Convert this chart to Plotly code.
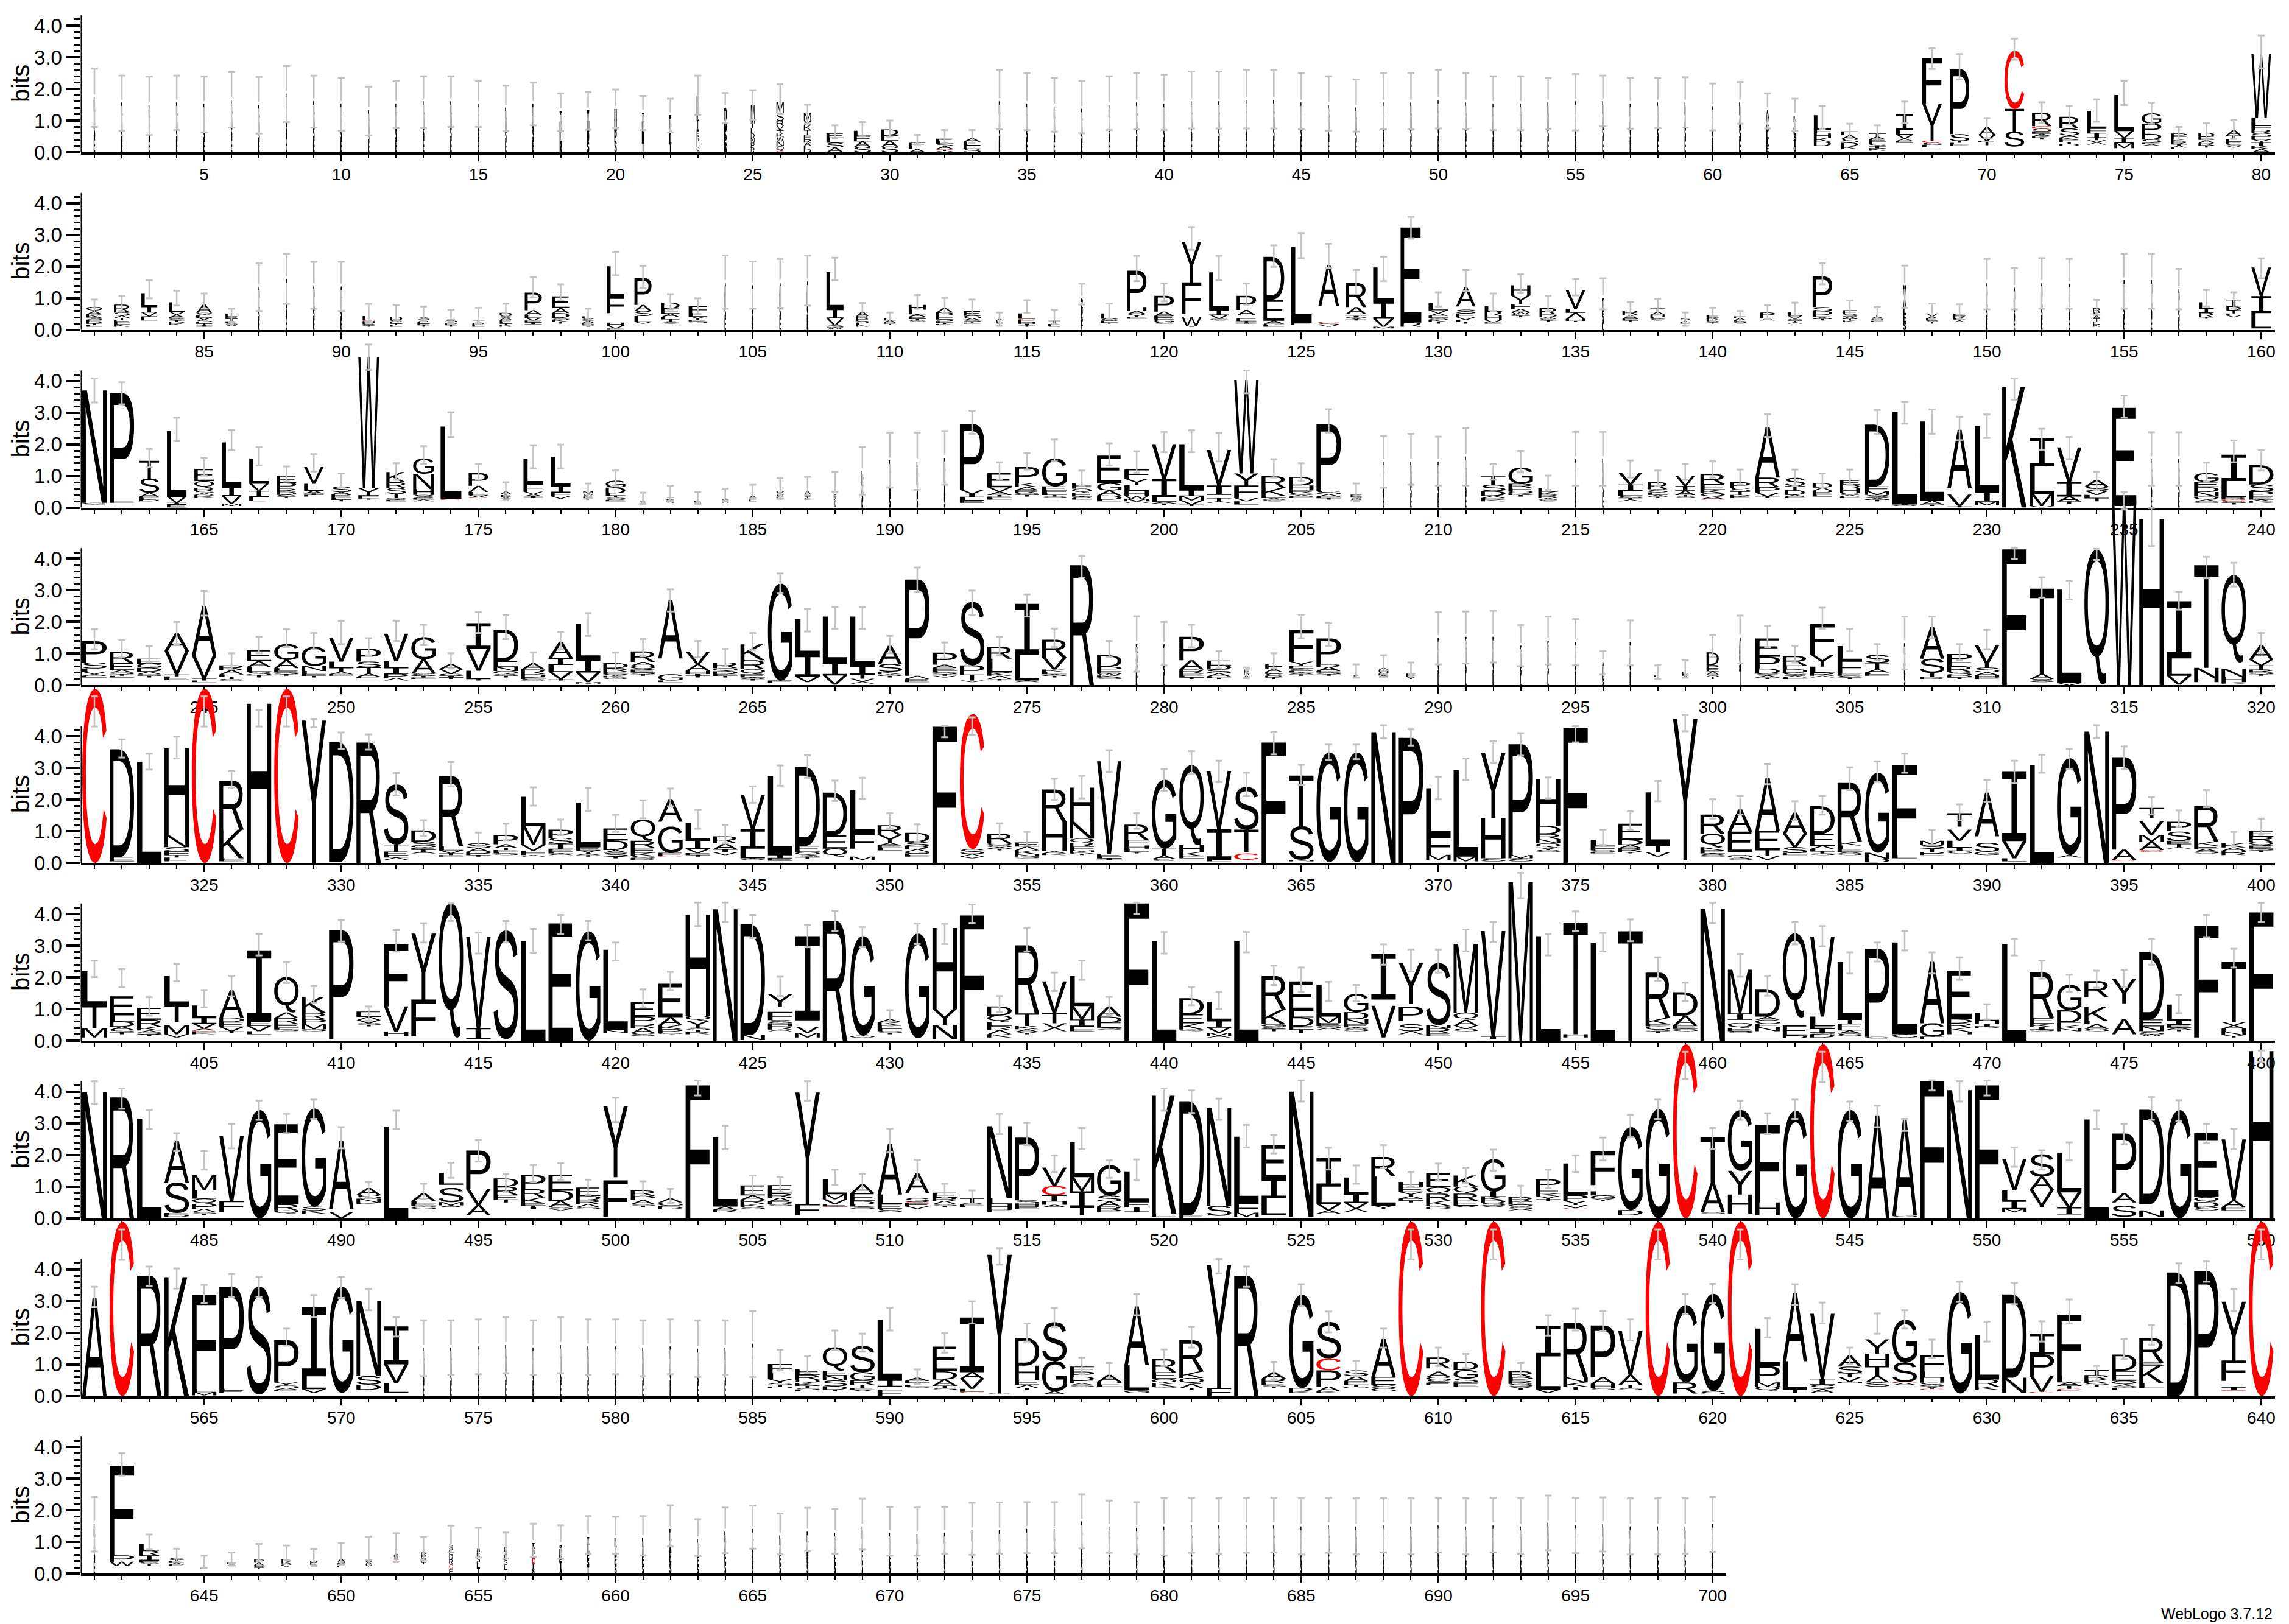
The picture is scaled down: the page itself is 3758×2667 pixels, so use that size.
import glob
import re
import struct

import plotly.graph_objects as go

# one tuple per position: (letters top to bottom, error low, error high[, stack width])
# "ESD.1" means E, S and D at 0.1 bits each, "_" is an empty spacer
row1 = [
    ("LASE.43", .80, 2.64, .03), ("LASE.39", .68, 2.42, .03), ("LASE.37", .55, 2.39, .03), ("LASE.39", .70, 2.42, .03),
    ("LASE.38", .63, 2.39, .03), ("LASE.41", .78, 2.53, .03), ("LASE.37", .59, 2.38, .03), ("LASE.46", .95, 2.72, .03),
    ("LASE.40", .78, 2.42, .03), ("LASE.38", .68, 2.35, .03), ("LASE.33", .53, 2.07, .03), ("LASE.38", .76, 2.24, .03),
    ("LASE.40", .76, 2.40, .03), ("LASE.40", .80, 2.40, .03), ("LASE.38", .80, 2.24, .03), ("LASE.35", .67, 2.10, .03),
    ("LASE.38", .85, 2.20, .04), ("TKLR.32", .67, 1.86, .06), ("VNDS.33", .71, 1.90, .06), ("HNPS.34", .76, 1.98, .07),
    ("ILNT.31", .70, 1.78, .06), ("KSLT.29", .63, 1.69, .05), ("M.75 I.35 ERHQ.17", 1.18, 2.42, .1), ("Q.5 NKPR.2 HS.05", .92, 1.87, .09),
    ("M.6 ILDNPR.15", 1.03, 1.96, .15), ("M.35 S.25 RV.15 T.1 K.1 WNQ.15 C.04", 1.2, 2.15, .3), ("M.25 SKTE.15 RALD.1", .9, 1.5, .3), ("ELSA.15", .45, .85, .7),
    ("LEAS.17", .5, .95, .7), ("DEAS.18", .5, 1.0, .7), ("ELA.1", .25, .55, .7), ("ELSA.08 C.03 TV.04", .3, .7, .7),
    ("ALES.11", .3, .7, .7), ("LASE.40", .72, 2.6, .03), ("LASE.38", .7, 2.5, .03), ("LASE.36", .65, 2.35, .03),
    ("LASE.34", .6, 2.25, .03), ("LASE.37", .7, 2.4, .03), ("LASE.39", .72, 2.5, .03), ("LASE.38", .7, 2.45, .03),
    ("LASE.40", .75, 2.55, .03), ("LASE.40", .75, 2.55, .03), ("LASE.41", .75, 2.6, .03), ("LASE.41", .75, 2.6, .03),
    ("LASE.39", .72, 2.5, .03), ("LASE.37", .68, 2.4, .03), ("LASE.35", .65, 2.3, .03), ("LASE.39", .72, 2.5, .03),
    ("LASE.39", .72, 2.5, .03), ("LASE.41", .75, 2.6, .03), ("LASE.39", .72, 2.5, .03), ("LASE.38", .7, 2.4, .03),
    ("LASE.38", .7, 2.4, .03), ("LASE.39", .74, 2.34, .03), ("LASE.40", .69, 2.47, .03), ("LASE.40", .82, 2.42, .03),
    ("LASE.38", .74, 2.35, .03), ("LASE.39", .76, 2.35, .03), ("LASE.39", .78, 2.37, .03), ("LASE.36", .69, 2.17, .03),
    ("LASE.39", .9, 2.22, .05), ("AVSLKE.22", .75, 1.86, .07), ("LAESTQ.19", .67, 1.69, .08), ("L.45 FHKD.13 _.2", .72, 1.46, .7),
    ("EAS.12 DK.1 _.1", .44, .9, .7), ("T.1 AE.08 LSIK.07 _.05", .41, .85, .7), ("I.5 LV.14 AE.06 _.3", .92, 1.6, .7), ("F1.43 Y1.17 C.06 SL.07 _.16", 2.63, 3.28),
    ("P2.05 S.22 TLE.05 _.2", 2.3, 3.1), ("A.25 V.2 E.03 T.1 _.22", .45, 1.08, .7), ("C1.83 T.72 S.47 _.18", 2.92, 3.59), ("R.43 C.08 SEA.08 KT.05 _.4", .93, 1.58),
    ("R.37 S.22 AKE.07 TD.06 _.2", .87, 1.46), ("L.56 F.14 I.16 TVA.07 _.24", .96, 1.67), ("L1.14 V.22 I.16 M.16 _.13", 1.49, 2.24), ("G.33 P.32 D.18 S.1 EA.05 _.2", .9, 1.57),
    ("P.1 EKR.08 IAL.05 _.1", .35, .8, .65), ("D.12 EA.1 RT.07 _.15", .4, .92, .65), ("A.17 T.12 LE.08 SV.05 _.15", .42, 1.01, .65), ("W2.02 L.24 F.13 R.11 S.1 EYIKA.1", 2.65, 3.69),
]
row2 = [
    ("Q.14 AK.1 SE.07 DTL.05 _.1", .48, .96, .65), ("R.25 S.1 AT.07 ELK.07 _.1", .6, 1.08, .65), ("L.42 I.19 V.12 E.13 _.3", 1.0, 1.57, .65), ("L.3 V.1 A.07 EST.05 DK.05 _.15", .77, 1.24, .65),
    ("A.27 Q.07 L.08 VS.07 ETI.05 _.1", .67, 1.15, .65), ("FET.08 LSA.05 _.12", .25, .67, .5), ("ALSE.34", .6, 2.1, .03), ("ALSE.40", .82, 2.4, .03),
    ("ALSE.35", .67, 2.15, .03), ("ALSE.34", .6, 2.15, .03), ("L.13 C.03 HE.05 ST.04 _.1", .28, .82, .5), ("D.12 S.05 ETL.05 _.1", .32, .79, .5),
    ("SA.07 LET.05 _.1", .29, .74, .5), ("S.08 AET.05 _.1", .26, .64, .5), ("T.05 AEL.05 _.1", .22, .7, .5), ("D.08 SAE.07 LTK.05 _.1", .32, .83, .5),
    ("P.56 A.14 L.1 V.08 EI.06 _.18", 1.03, 1.67, .7), ("E.37 A.16 D.15 SKT.06 _.2", .93, 1.44, .7), ("LSA.07 ETV.04 _.1", .16, .67, .5), ("L.97 F.51 _.3 H.1 V.08 E.05", 1.73, 2.45, .7),
    ("P.85 A.19 S.16 L.19 V.05 _.2", 1.33, 2.02, .7), ("D.18 E.17 A.1 FTS.07 _.2", .65, 1.13, .75), ("F.22 L.11 VT.05 ES.05 _.22", .5, 1.0, .75), ("ALSE.37", .67, 2.35, .03),
    ("ALSE.35", .67, 2.16, .03), ("ALSE.37", .7, 2.24, .03), ("ALSE.38", .77, 2.35, .03), ("L1.17 I.3 V.22 S.06 W.05 _.03", 1.57, 2.28, .7),
    ("A.14 R.1 ES.06 LK.06 _.1", .42, .85, .5), ("L.07 ADT.05 _.15", .22, .55, .5), ("H.15 L.15 AE.07 TS.05 _.25", .67, 1.1, .7), ("A.15 P.15 E.07 SL.05 TK.04 _.15", .54, 1.01, .7),
    ("E.14 G.08 A.06 ST.04 L.03 _.2", .48, .96, .7), ("ALS.05 _.2", .13, .55, .3), ("L.17 C.03 EH.06 IT.05 _.1", .54, .94, .7), ("T.1 ELA.03 _.1", .19, .64, .5),
    ("DLEVSKT.14", .8, 1.46, .05), ("L.17 SE.06 T.03 _.2", .35, .83, .7), ("P1.15 H.12 A.1 Y.1 E.05 _.35", 1.54, 2.34, .8), ("P.5 A.13 E.13 G.07 S.05 _.2", .9, 1.47, .8),
    ("Y1.28 F1.0 _.1 W.27 I.03 _.1", 2.53, 3.25, .8), ("L1.2 I.15 V.12 S.05 _.3", 1.57, 2.34, .8), ("P.45 A.17 _.1 E.08 T.05 I.03 _.2", .8, 1.47, .8), ("D1.35 E.67 A.09 G.05 L.05 _.1", 1.99, 2.67, .85),
    ("L2.38 E.08 _.15", 2.27, 3.06, .85), ("A1.3 _.5 C.03 SV.06 _.1", 1.95, 2.72, .85), ("R.76 A.22 _.05 I.06 V.05 T.04 _.3", 1.12, 1.89, .85), ("L1.08 I.54 V.25 M.05 _.05", 1.54, 2.31, .85),
    ("E3.0 R.13 _.1", 2.88, 3.57, .85), ("L.22 V.1 AE.07 SKT.06 _.2", .74, 1.19, .8), ("A.6 _.1 SE.12 V.08 LT.06 _.2", 1.22, 1.89, .8), ("L.18 R.12 H.14 V.07 E.04 _.2", .6, 1.15, .7),
    ("H.32 Y.27 F.16 A.1 W.06 S.05 T.05 _.4", 1.18, 1.76, .8), ("R.2 D.08 A.06 ST.05 _.25", .6, 1.08, .7), ("V.58 L.13 A.2 H.05 T.04 _.25", 1.09, 1.6, .8), ("KSEAL.2", .65, 1.63, .05),
    ("R.14 A.12 ET.05 _.25", .42, .88, .65), ("T.12 A.09 D.08 LS.05 _.3", .48, .98, .6), ("ST.04 AL.04 _.2", .13, .55, .4), ("E.08 RL.05 ST.04 _.2", .28, .7, .5),
    ("EA.06 LS.04 T.03 _.2", .22, .6, .5), ("P.13 LA.06 _.3", .35, .78, .6), ("L.12 V.11 ST.05 A.04 _.2", .42, .86, .6), ("P.97 S.12 D.13 E.07 AT.05 _.3", 1.44, 2.1, .8),
    ("E.13 SA.07 TK.05 _.25", .48, .93, .6), ("TA.05 SVF.04 _.25", .29, .72, .5), ("V.4 ALES.25", .7, 2.03, .08), ("V.1 AL.06 ST.05 _.2", .35, .83, .5),
    ("E.07 R.07 LTA.04 _.25", .35, .81, .5), ("ALSE.37", .65, 2.24, .03), ("ALSE.33", .65, 1.95, .03), ("ALSE.37", .67, 2.27, .03),
    ("ALSE.36", .67, 2.24, .03), ("R.13 S.1 AT.1 EK.08 _.1", .48, .95, .3), ("ALSE.39", .67, 2.41, .03), ("ALSE.39", .67, 2.4, .03),
    ("ALSE.32", .65, 1.93, .03), ("L.2 I.13 R.14 T.05 _.35", .74, 1.26, .6), ("I.22 D.12 T.1 LV.06 _.4", .67, 1.19, .6), ("V.9 I.54 L.48 _.05", 1.63, 2.26, .8),
]
row3 = [
    ("N3.55 G.05 _.1", 3.32, 4.08), ("P3.41 E.05 _.15", 3.26, 3.96), ("T.56 S.45 A.12 ELD.05 _.2", 1.27, 1.85, .8), ("L2.08 V.19 I.05 E.1", 2.1, 2.84, .8),
    ("E.38 Q.22 R.1 SA.06 DK.05 _.3", 1.01, 1.56, .8), ("L1.41 I.29 V.24 M.07 _.05", 1.81, 2.45, .8), ("L.8 V.22 I.19 F.12 C.02 _.2", 1.33, 1.91, .8), ("E.22 P.18 R.1 D.1 ST.05 _.3", .82, 1.3, .8),
    ("V.53 L.22 A.08 IF.05 _.35", 1.14, 1.69, .8), ("S.17 A.07 PE.06 LT.05 _.2", .63, 1.08, .8), ("W4.15 Y.22 F.1 T.04 _.25", 4.35, 5.15, .85), ("K.32 R.18 S.19 T.13 QE.05 _.2", .88, 1.4, .8),
    ("G.48 N.48 H.19 S.1 EA.05 _.2", 1.37, 1.94, .85), ("L2.29 C.03 _.24", 2.23, 3.01, .85), ("P.4 A.2 L.1 V.07 C.02 _.3", .88, 1.38, .8), ("A.07 ILV.05 T.04 _.25", .24, .8, .4),
    ("L.8 F.25 V.08 AI.06 _.3", 1.24, 1.97, .8), ("L.93 I.2 F.12 V.08 _.28", 1.24, 1.99, .8), ("M.06 AS.05 LT.05 _.25", .31, .76, .4), ("G.22 D.18 L.07 TS.05 AE.04 _.2", .7, 1.17, .8),
    ("ELS.03 AT.02 _.1", .12, .47, .2), ("T.05 E.05 LS.03 _.15", .21, .69, .3), ("EA.03 _.15", .12, .49, .3), ("S.05 TA.03 _.15", .21, .6, .3),
    ("A.05 SEL.04 _.2", .28, .72, .3), ("P.07 AS.05 C.02 LT.04 _.25", .28, .93, .3), ("A.07 V.05 STE.05 _.25", .4, .97, .25), ("LEKTA.1", .5, 1.13, .1),
    ("LEASK.23", .4, 1.91, .04), ("LEAS.37", .63, 2.37, .03), ("LEAS.36", .56, 2.37, .03), ("LEAS.39", .72, 2.42, .03),
    ("P2.08 V.13 I.1 L.1 E.08 _.15", 2.33, 3.06), ("E.45 V.14 A.1 TE.05 L.05 _.25", .88, 1.43), ("P.5 K.13 A.1 R.1 ST.05 _.35", 1.2, 1.72), ("G.88 E.12 F.08 L.07 TS.05 _.3", 1.46, 2.15),
    ("F.18 Q.13 E.12 AL.05 _.25", .7, 1.17, .8), ("E.87 G.23 A.16 D.13 L.05 _.2", 1.33, 2.03), ("F.3 Y.2 L.18 H.16 W.1 M.07 A.05 _.15", 1.1, 1.78), ("V1.1 I.57 L.15 A.05 T.05 _.08", 1.75, 2.39),
    ("L1.44 I.2 M.13 V.13 T.05 _.05", 1.75, 2.44), ("V1.12 I.3 _.1 T.1 A.05 _.15", 1.46, 2.36), ("W2.95 Y.38 F.4 V.1 L.1 _.1", 3.61, 4.33), ("R.37 K.25 E.07 A.05 S.05 _.2", .95, 1.53),
    ("D.27 H.16 R.08 S.06 AE.05 _.3", .85, 1.4), ("P2.1 S.11 A.07 ET.05 _.25", 2.37, 3.11), ("E.07 SA.05 T.04 _.2", .21, .76, .45), ("LA.36 SE.36", .63, 2.26, .03),
    ("LA.36 SE.36", .72, 2.33, .03), ("LA.36 SE.36", .69, 2.24, .03), ("LA.4 SE.4", .69, 2.52, .03), ("T.29 S.2 D.15 A.07 EK.05 _.2", .88, 1.37),
    ("G.51 R.13 E.1 Q.07 KT.05 _.35", 1.11, 1.79), ("E.12 K.1 R.1 AS.05 _.2", .56, 1.01, .8), ("LA.38 SE.38", .69, 2.39, .03), ("LA.38 SE.38", .69, 2.39, .03),
    ("V.38 I.2 L.16 S.07 TA.05 _.2", .95, 1.49), ("R.22 S.1 L.08 AT.05 _.3", .69, 1.17, .8), ("V.32 I.15 A.13 TS.05 _.3", .88, 1.38, .8), ("R.32 E.18 K.1 Q.12 A.07 C.02 _.25", .95, 1.46),
    ("P.18 S.11 T.11 DE.05 _.3", .72, 1.2, .8), ("A1.6 R.3 P.18 V.12 T.05 _.3", 2.23, 2.95), ("S.26 T.13 D.15 AE.05 _.3", .69, 1.2, .8), ("D.14 A.1 P.08 EL.05 _.35", .63, 1.08, .8),
    ("E.14 D.11 H.15 S.06 AL.05 _.3", .72, 1.2, .8), ("D1.95 E.16 M.11 S.1 AT.05 _.2", 2.33, 3.08), ("L2.92 A.05 _.05", 2.65, 3.33), ("L2.5 A.12 T.05 _.05", 2.33, 3.1),
    ("A1.85 _.2 V.36 T.05", 2.13, 2.87), ("L2.08 I.3 M.12 _.07", 2.2, 2.94), ("K3.8", 3.4, 4.08), ("I.9 L.87 M.38 V.05", 1.81, 2.49),
    ("V1.1 I.45 A.15 T.08 _.12", 1.53, 2.23), ("A.21 S.13 V.13 L.1 T.1 _.2", .56, 1.13), ("E3.1 _.05", 2.84, 3.54), ("LA.38 SE.38", .69, 2.38, .03),
    ("LA.38 SE.38", .69, 2.38, .03), ("G.28 E.16 D.16 N.14 Q.1 AS.05 _.15", .82, 1.42), ("I.83 L.52 R.07 C.05 ST.05 _.1", 1.43, 2.12), ("D.61 S.22 P.16 E.1 AK.05 _.15", 1.17, 1.81),
]
row4 = [
    ("P.67 S.19 L.11 V.07 AE.05 _.25", 1.14, 1.77), ("R.35 E.22 A.08 ST.05 L.05 _.25", .88, 1.42), ("E.16 G.13 D.12 A.08 ST.05 _.25", .72, 1.24), ("A.55 V.74 T.07 LE.05 _.18", 1.3, 2.0),
    ("A1.57 V.72 T.07 L.05 _.1", 2.2, 2.98), ("R.15 A.14 LT.07 S.05 _.15", .5, 1.01), ("E.35 A.18 L.16 S.1 T.07 _.25", 1.01, 1.53), ("G.5 A.26 L.07 E.07 ST.05 _.3", 1.21, 1.77),
    ("G.6 N.16 L.1 ET.05 _.25", 1.14, 1.65), ("V.75 L.2 T.13 A.07 E.05 _.3", 1.3, 2.03), ("P.4 S.18 T.2 A.1 E.05 _.22", .95, 1.49), ("V.87 L.2 I.2 P.13 A.08 _.15", 1.4, 2.04),
    ("G.7 A.45 S.07 TE.05 _.2", 1.27, 1.91), ("A.16 V.15 S.06 IT.05 _.2", .53, 1.01), ("I.8 V.7 L.26 T.05 _.15", 1.65, 2.31), ("D1.0 E.18 N.13 Q.1 ST.05 _.25", 1.46, 2.21),
    ("A.2 R.15 D.1 ES.05 _.15", .6, 1.04), ("A.51 I.22 L.22 V.22 T.05 _.15", 1.14, 1.69), ("L1.13 I.42 V.3 M.05 _.05", 1.56, 2.28), ("D.16 R.11 E.08 VK.05 A.05 _.2", .5, 1.03),
    ("R.33 A.12 Q.12 E.1 ST.05 _.3", .92, 1.46), ("A1.83 _.5 G.2 L.05 _.1", 2.33, 3.03), ("V.4 A.2 H.1 I.06 T.05 _.25", .88, 1.4), ("R.18 Q.1 D.09 ET.05 _.25", .6, 1.15),
    ("K.5 R.28 Q.16 E.1 AT.05 _.15", 1.11, 1.65), ("G3.06 E.08 _.07", 2.9, 3.53), ("L1.13 I.7 V.17 _.1", 1.7, 2.41), ("L1.44 I.42 V.29 _.02", 1.78, 2.47),
    ("L1.57 I.25 T.14 V.1 A.06 _.05", 1.78, 2.47), ("A.58 S.24 K.08 A.05 T.05 _.25", 1.01, 1.56), ("P3.04 A.1 E.1 _.1", 2.94, 3.72), ("P.38 A.1 E.1 LS.05 TV.05 _.25", .85, 1.35),
    ("S2.0 P.29 T.19 V.05 _.1", 2.23, 2.99), ("R.38 L.44 K.1 A.1 T.05 _.15", .95, 1.53), ("I1.62 L.8 A.05 _.1", 2.17, 2.87), ("R.56 V.38 K.08 L.07 AT.05 _.25", 1.21, 1.79),
    ("R3.79", 3.4, 4.08), ("D.37 P.13 E.08 WK.06 S.05 _.2", .88, 1.4), ("EASLK.26", .43, 2.18, .04), ("EASL.32", .63, 2.0, .03),
    ("P.74 A.29 R.13 E.07 LT.05 _.2", 1.2, 1.91), ("E.15 D.13 S.12 A.1 LT.04 _.2", .53, 1.08), ("FEDAS.06 _.2", .23, .56, .2), ("F.16 A.1 ES.06 DT.05 _.2", .53, 1.01, .7),
    ("F1.0 Y.14 ES.08 LA.05 T.05 _.3", 1.49, 2.21), ("P.82 R.08 A.13 ES.05 T.05 _.3", 1.24, 1.96), ("TA.03 ES.03 _.25", .24, .66, .2), ("G.17 E.06 AS.03 _.25", .44, .95, .4),
    ("E.06 LA.04 T.03 _.2", .31, .72, .4), ("EASL.37", .66, 2.31, .03), ("EASL.38", .69, 2.33, .03), ("EASL.38", .72, 2.35, .03),
    ("EASL.31", .6, 1.9, .03), ("EASL.35", .66, 2.17, .03), ("EASL.34", .63, 2.09, .03), ("ALES.18", .34, 1.08, .04),
    ("EASL.34", .63, 2.05, .03), ("L.05 TA.03 _.2", .2, .63, .3), ("E.07 LA.05 _.25", .24, .79, .25), ("D.4 P.1 EA.1 ST.07 _.2", .88, 1.58, .5),
    ("AST.5", .69, 2.2, .05), ("E.58 P.38 D.15 SA.06 T.05 _.2", 1.21, 1.88), ("R.29 E.12 D.12 S.09 AL.05 _.2", .72, 1.25), ("F.96 Y.38 L.19 R.1 A.05 _.25", 1.78, 2.45),
    ("L.45 F.42 E.07 ST.05 _.2", 1.08, 1.78), ("S.25 T.2 A.11 LE.05 _.3", .79, 1.3), ("LAES.33", .5, 2.17, .03), ("A1.0 S.45 T.13 D.06 _.2", 1.49, 2.17),
    ("P.26 E.13 R.18 S.1 D.07 T.05 _.2", .79, 1.3), ("V.58 T.12 S.15 A.09 H.07 E.05 _.2", 1.14, 1.75), ("F4.29", 3.99, 4.33), ("T2.69 A.16 S.1 _.1", 2.77, 3.41),
    ("L2.95 V.07", 2.71, 3.29), ("Q4.25 _.03", 3.96, 4.31), ("W5.85", 5.55, 6.1), ("H5.25", 4.4, 5.6),
    ("I1.8 L.55 V.28 _.02", 2.39, 2.94), ("T3.24 N.32 H.13 _.1", 3.38, 4.06), ("Q2.76 _.2 N.26 H.16 K.05 _.05", 3.12, 3.87), ("A.45 V.18 T.13 R.1 ST.05 _.3", 1.01, 1.65),
]
row5 = [
    ("C5.5", 4.31, 5.26), ("D3.4 E.14 _.05", 3.33, 3.9), ("L3.19", 2.95, 3.45), ("H2.74 N.38 S.13 F.12 T.08 L.08 E.04 _.05", 3.3, 3.99),
    ("C5.5", 4.31, 5.26), ("R1.55 K.9 L.05 E.05 _.05", 2.36, 2.9), ("H5.03", 4.31, 4.83), ("C5.5", 4.31, 5.26),
    ("Y4.5", 4.28, 4.55), ("D3.78 _.03", 3.6, 4.12), ("R3.8", 3.58, 4.06), ("S1.9 T.22 E.12 LA.07 _.1", 2.13, 2.84),
    ("D.36 S.13 Q.06 ETA.06 _.3", .85, 1.35), ("R2.21 L.13 V.1 T.05 E.05 _.2", 2.42, 3.19), ("S.15 A.12 DE.05 T.05 _.2", .53, .96), ("P.29 A.12 TE.06 L.05 S.05 _.25", .72, 1.24),
    ("L.92 M.6 V.18 F.14 A.05 _.2", 1.81, 2.39), ("P.26 S.18 I.18 E.08 LA.05 _.25", .88, 1.37), ("L1.41 E.1 Y.1 AT.05 _.2", 1.65, 2.37), ("E.38 D.3 A.09 S.12 T.05 _.15", .98, 1.52),
    ("Q.67 R.22 E.16 K.1 SD.06 _.1", 1.41, 1.98), ("A.72 _.15 G.83 E.1 C.02 _.2", 1.79, 2.35), ("L.53 I.29 V.13 E.06 T.05 _.2", 1.08, 1.67), ("R.22 A.19 I.1 V.08 _.25", .62, 1.2),
    ("V1.09 I.61 L.3 A.05 _.1", 1.9, 2.42), ("L2.5 I.1 E.08 _.07", 2.44, 3.08), ("D2.49 E.2 Q.1 S.06 T.05 _.13", 2.69, 3.4), ("D1.35 E.42 Q.25 _.2", 1.96, 2.6),
    ("L1.38 F.47 _.25 M.1 _.1", 2.02, 2.69), ("R.3 Y.26 A.07 E.08 L.08 _.4", 1.09, 1.57), ("D.29 S.13 R.1 A.08 GE.05 L.05 _.2", .67, 1.22), ("F4.3", 3.97, 4.33),
    ("C4.26 S.16 A.08 V.05 _.15", 4.05, 4.6), ("R.29 Q.07 S.06 A.05 T.05 _.4", .8, 1.25), ("E.13 A.12 K.13 N.07 S.05 _.15", .54, .98), ("R1.02 H.93 A.07 K.05 _.25", 1.99, 2.66),
    ("H1.08 N.53 Q.13 R.12 F.12 M.05 K.05 Y.05 _.25", 2.04, 2.75), ("V2.93 E.08 LI.05 _.1", 2.88, 3.56), ("R.48 F.18 H.1 L.1 Y.05 _.3", 1.08, 1.57), ("G2.18 T.22 A.1 S.06 _.07", 2.28, 2.97),
    ("Q2.53 H.22 K.12 E.07 _.15", 2.81, 3.53), ("V1.85 I.96 L.05 _.05", 2.55, 3.23), ("S1.35 T.7 _.05 C.2 _.1", 2.11, 2.85), ("F3.8", 3.43, 4.13),
    ("T1.6 S1.06 N.05 _.05", 2.46, 3.1), ("G3.46 _.03", 3.26, 3.74), ("G3.46 _.03", 3.28, 3.74), ("N4.13", 3.94, 4.35),
    ("P3.95", 3.71, 4.22), ("L1.52 F.58 M.16 _.1", 2.01, 2.72), ("L2.73 M.15 _.05", 2.62, 3.3), ("Y2.05 H1.27 S.1 _.05", 3.17, 3.84),
    ("P3.5 M.1 S.1 _.05", 3.39, 4.1), ("H1.47 D.26 R.16 N.13 Q.13 Y.08 S.06 _.35", 2.04, 2.7), ("F4.27", 3.81, 4.32), ("L.2 F.13 S.05 E.05 _.3", .57, 1.05),
    ("E.51 D.16 A.1 R.12 Y.05 _.3", 1.05, 1.63), ("L1.67 T.23 V.13 _.2", 1.95, 2.59), ("Y4.47 _.08", 4.16, 4.67), ("R.61 Q.42 K.1 E.1 AS.05 _.2", 1.4, 2.01),
    ("A.7 E.64 _.1 Q.1 S.05 _.1", 1.53, 2.11), ("A1.67 E.6 T.2 V.12 _.1", 2.49, 3.13), ("A.67 V.42 S.18 E.07 _.25", 1.34, 1.95), ("D.87 E.38 A.1 LT.07 S.05 _.25", 1.53, 2.11),
    ("R1.86 K.12 L.12 E.08 AS.05 _.25", 2.3, 3.02), ("G2.53 N.18 D.12 _.02", 2.56, 3.21), ("F2.85 L.1 _.15", 2.85, 3.45), ("M.13 S.12 T.1 DE.05 _.25", .57, 1.05),
    ("T.42 _.1 V.35 L.22 I.1 G.08 _.3", 1.34, 1.85), ("A1.38 _.2 S.29 G.1 _.25", 1.92, 2.62), ("I2.21 V.54 L.1 _.05", 2.53, 3.23), ("L3.1", 2.85, 3.42),
    ("G3.06 A.08 _.17", 2.97, 3.6), ("N4.15", 3.94, 4.35), ("P2.92 A.32 C.03 _.07", 2.97, 3.68), ("T.33 _.1 V.42 M.22 A.26 C.06 _.35", 1.53, 2.08),
    ("P.29 _.02 S.29 E.1 T.1 A.05 _.45", 1.15, 1.66), ("R1.12 K.13 E.1 AS.07 _.3", 1.76, 2.3), ("K.13 A.1 D.07 R.07 _.25", .54, .98), ("E.18 R.16 Q.12 E.1 ST.05 _.35", .89, 1.4),
]
row6 = [
    ("L1.06 T.73 M.3 _.1", 2.01, 2.53), ("E.6 L.2 D.16 A.1 ST.07 _.2", 1.69, 2.26), ("E.38 R.22 K.12 AS.06 T.05 _.15", .79, 1.37), ("L.9 T.55 _.1 M.29 V.1 _.1", 1.88, 2.43),
    ("L.38 I.19 V.16 A.05 C.03 EK.05 _.2", 1.05, 1.6), ("A.87 D.13 E.16 V.13 T.05 _.25", 1.4, 2.05), ("I2.24 E.15 V.16 L.1 _.2", 2.69, 3.37), ("Q1.12 A.17 R.19 E.13 LS.05 _.3", 1.82, 2.47),
    ("K.5 R.2 P.16 M.16 S.06 _.3", 1.19, 1.72), ("P3.43 _.05", 3.13, 3.81), ("E.17 A.1 V.1 ST.05 _.45", .63, 1.08), ("F1.98 V.8 H.13 _.15", 2.81, 3.49),
    ("Y2.08 F1.15 _.15", 3.1, 3.71), ("Q4.23 _.1", 3.78, 4.33), ("V2.88 I.35 _.05", 2.75, 3.41), ("S3.43 _.05", 3.1, 3.78),
    ("L3.15", 2.78, 3.53), ("E3.7", 3.36, 3.97), ("G3.45", 3.17, 3.78), ("L2.54 N.08 _.25", 2.53, 3.1),
    ("E.45 P.22 R.14 A.16 S.09 _.15", 1.05, 1.62), ("E1.06 A.26 K.12 P.11 Q.05 _.2", 1.6, 2.17), ("H3.18 Q.16 Y.22 ST.07 R.07 _.2", 3.62, 4.36), ("N4.15", 3.75, 4.36),
    ("D3.5 N.16 _.02", 3.24, 3.97), ("Y.4 _.15 F.26 S.1 H.1 R.1 A.05 _.3", 1.41, 2.02), ("I2.66 _.2 V.19 M.15 _.1", 2.95, 3.65), ("R3.78", 3.46, 4.1),
    ("G3.14 Q.08 _.08", 2.95, 3.59), ("A.1 K.1 E.1 F.08 ST.05 _.2", .45, .96), ("G3.3 _.08", 3.05, 3.7), ("H2.56 Y.5 N.45 _.05", 3.05, 3.69),
    ("F3.95", 3.72, 4.3), ("D.29 Q.2 E.13 R.13 A.13 K.1 _.1", .9, 1.41), ("R2.15 T.4 K.1 A.08 Y.08 _.2", 2.82, 3.57), ("V1.0 T.32 V.15 A.1 _.3", 1.57, 2.15),
    ("L.95 M.42 I.22 F.1 E.05 _.3", 1.92, 2.53), ("A.32 D.19 E.16 S.06 _.35", .8, 1.38), ("F4.33", 4.0, 4.36), ("L3.15", 2.75, 3.43),
    ("D.51 E.28 K.2 Q.05 _.3", 1.12, 1.7), ("L.6 I.22 V.16 M.1 A.05 _.1", 1.0, 1.55), ("L3.15", 2.79, 3.43), ("R1.07 K.45 G.08 ST.07 _.3", 1.76, 2.37),
    ("E.93 L.2 D.29 E.1 T.1 _.25", 1.54, 2.31), ("L1.0 M.2 E.1 S.06 A.05 _.35", 1.25, 1.86), ("G.58 D.22 N.16 E.1 AS.06 _.3", 1.25, 1.76), ("I1.45 _.2 V1.0 _.1", 2.4, 3.04),
    ("Y1.28 _.1 P.45 _.1 S.22 A.1 _.2", 2.18, 2.88), ("S1.96 N.1 R.16 E.08 _.15", 2.15, 2.88), ("M2.18 Q.22 A.19 V.1 S.07 _.3", 2.82, 3.51), ("V3.33 I.08 _.05", 3.11, 3.75),
    ("M5.0", 4.5, 5.3), ("L3.3", 2.69, 3.37), ("T3.53 H.1 _.1", 3.46, 4.08), ("L3.08", 2.82, 3.4),
    ("T3.45", 3.14, 3.83), ("R1.44 K.19 F.07 G.1 ST.05 _.25", 1.89, 2.63), ("D.74 A.32 E.1 G.07 _.3", 1.25, 1.83), ("N4.17", 3.72, 4.36),
    ("M1.38 I.2 _.1 Q.16 E.1 S.05 _.25", 2.02, 2.74), ("D.87 A.1 G.13 E.1 N.13 _.3", 1.42, 2.05), ("Q2.66 _.25 E.32 D.08 _.08", 3.04, 3.74), ("V2.53 L.3 E.08 I.13 S.05 D.1 _.1", 2.98, 3.62),
    ("L1.81 T.13 E.22 A.1 S.07 _.15", 2.12, 2.79), ("P2.78 G.05 _.07", 2.5, 3.1), ("L2.9 G.1 _.1", 2.85, 3.46), ("A1.94 G.42 E.08 _.05", 2.12, 2.79),
    ("E1.53 D.13 R.14 K.13 H.08 _.2", 1.92, 2.63), ("L.25 H.1 I.08 D.05 _.4", .67, 1.15), ("L3.05", 2.69, 3.2), ("R1.44 E.19 K.1 I.08 S.05 _.3", 1.96, 2.53),
    ("G.8 D.38 E.1 K.1 N.08 _.3", 1.54, 2.08), ("R.51 _.3 K.45 L.1 A.15 S.07 _.3", 1.67, 2.21), ("Y.77 _.5 A.48 _.2", 1.7, 2.24), ("D2.12 E.22 N.15 S.1 W.05 _.15", 2.4, 3.2),
    ("L.51 I.12 E.1 A.06 T.05 _.3", .87, 1.45), ("F3.53 _.1", 3.27, 3.97), ("T1.9 V.1 A.1 H.1 N.1 Y.08 _.1", 2.31, 2.9), ("F4.05", 3.75, 4.35),
]
row7 = [
    ("N3.98", 3.62, 4.33), ("R3.82", 3.46, 4.1), ("L3.15", 2.82, 3.43), ("A1.31 S.96 ED.06 _.05", 2.12, 2.69),
    ("M.48 L.26 Q.16 P.16 A.1 ST.05 _.1", 1.54, 2.12), ("V2.05 F.35 _.2", 2.21, 2.98), ("G3.42", 3.11, 3.72), ("E2.53 R.19 Q.1 _.15", 2.69, 3.3),
    ("G3.1 S.12 K.1 _.15", 3.14, 3.75), ("A2.15 _.1 V.2", 2.21, 2.88), ("A.22 S.12 N.12 K.05 _.45", .64, 1.15), ("L2.9", 2.82, 3.4),
    ("A.25 L.1 E.05 S.05 G.05 _.3", .61, 1.09), ("L.38 _.1 S.45 M.1 A.06 _.35", 1.28, 1.76), ("P1.22 V.5 A.32 _.1", 1.79, 2.47), ("D.26 R.26 E.16 T.08 _.5", .83, 1.41),
    ("P.45 R.26 K.19 E.07 TI.05 _.3", 1.15, 1.68), ("E.51 D.32 A.19 S.06 V.05 _.25", 1.22, 1.74), ("E.26 D.13 R.13 A.1 S.05 _.3", .74, 1.22), ("Y2.24 _.1 F1.15 _.05", 3.04, 3.81),
    ("R.17 P.13 A.13 ST.05 _.35", .7, 1.17), ("A.13 G.1 ED.05 _.3", .48, .93), ("F4.2", 3.88, 4.35), ("L2.19 A.1 R.07 _.2", 2.18, 2.92),
    ("E.32 A.13 R.13 K.1 S.06 _.3", .77, 1.35), ("E.27 R.13 A.12 D.08 S.05 _.4", .83, 1.31), ("Y3.52 F.35 _.1", 3.72, 4.33), ("L.48 M.16 V.15 E.08 C.02 _.35", 1.06, 1.54),
    ("A.29 E.25 D.1 LS.07 _.3", .9, 1.41), ("A1.6 L.3 E.15 S.1 _.2", 2.08, 2.83), ("A.63 _.15 S.13 C.03 E.1 V.08 _.3", 1.22, 1.85), ("E.16 R.1 A.1 ST.05 _.35", .64, 1.09),
    ("T.13 AE.05 L.05 _.35", .42, .88), ("N2.28 L.18 H.18 E.07 _.2", 2.66, 3.3), ("P1.98 S.1 H.1 E.07 _.3", 2.31, 3.01), ("V.58 C.29 I.2 H.1 A.08 _.35", 1.47, 1.99),
    ("L1.1 M.45 I.5 T.25 _.1", 2.18, 2.85), ("G.96 S.19 A.16 R.12 E.05 _.2", 1.28, 1.83), ("L.96 F.16 I.16 _.2", 1.22, 1.86), ("K3.72 E.1 _.05", 3.4, 4.1),
    ("D3.6 E.1", 3.33, 4.04), ("N3.08 S.32 _.08", 3.11, 3.78), ("L2.1 F.3 M.13 _.05", 2.24, 2.95), ("E1.06 I.6 L.55 _.1", 2.05, 2.63),
    ("N3.95 _.05", 3.69, 4.35), ("I.9 L.55 V.2 A.1 _.15", 1.54, 2.23), ("L.51 I.29 V.19 A.1 _.2", 1.09, 1.67), ("R.61 L.93 Y.1 _.3", 1.6, 2.31),
    ("H.16 E.16 Y.13 A.08 ET.06 _.5", .99, 1.47), ("E.45 Q.2 R.22 K.16 S.05 D.05 _.3", 1.19, 1.73), ("K.35 Q.22 R.22 E.16 A.05 _.35", 1.12, 1.6), ("G1.03 I.16 K.1 D.1 S.08 A.05 _.35", 1.51, 2.17),
    ("R.14 E.1 Q.08 SA.05 _.25", .48, 1.03), ("P.29 E.16 K.08 Y.1 T.05 _.55", .96, 1.54), ("L1.0 P.18 Y.13 V.1 C.02 _.3", 1.47, 1.99), ("F1.06 _.2 L.13 G.1 Y.07 _.55", 1.83, 2.55),
    ("G2.62 D.16 _.1", 2.56, 3.27), ("G3.45", 3.14, 3.75), ("C5.5", 4.4, 5.26), ("T1.44 A.93 S.05 _.15", 2.18, 2.85),
    ("G1.92 Y.75 H.6 _.15", 3.11, 3.72), ("F2.45 H.4 _.1", 2.66, 3.32), ("G3.4", 3.14, 3.75), ("C5.5", 4.3, 5.26),
    ("G3.42", 3.08, 3.69), ("A3.25", 2.88, 3.56), ("A2.99 G.06 _.05", 2.76, 3.14), ("F4.33", 4.04, 4.36),
    ("N4.05", 3.69, 4.33), ("F4.2", 3.88, 4.35), ("V.99 L.33 I.25 M.1 _.2", 1.63, 2.24), ("S.7 A.42 V.5 T.05 _.35", 1.54, 2.15),
    ("L1.25 V.48 I.22 _.12", 1.83, 2.4), ("L3.12", 2.82, 3.4), ("P1.89 A.29 _.1 S.35 _.05", 2.34, 2.98), ("D2.98 _.2 N.2 _.05", 3.11, 3.83),
    ("G3.42", 3.08, 3.73), ("E2.02 Q.16 D.16 S.1 _.25", 2.37, 2.98), ("V1.92 A.22 E.1 _.25", 2.18, 2.83), ("H5.28", 4.95, 5.3),
]
row8 = [
    ("A3.1", 2.81, 3.45), ("C5.5", 4.3, 5.26), ("R3.8", 3.48, 4.09), ("K3.75", 3.39, 4.03),
    ("F2.98 L.1 M.1 _.02", 2.94, 3.51), ("P3.22 L.05 E.08 _.1", 3.13, 3.85), ("S3.4 _.05", 3.13, 3.77), ("P1.33 Y.1 S.08 A.05 E.05 _.15", 1.59, 2.13),
    ("I2.2 L.4 V.12 _.1", 2.49, 3.19), ("G3.35 _.1", 3.1, 3.77), ("N2.38 S.27 D.16 _.2", 2.71, 3.38), ("I1.2 V.6 L.3 _.1", 1.88, 2.49),
    ("LASE.38", .63, 2.39, .03), ("LASE.38", .67, 2.39, .03), ("LASE.39", .69, 2.42, .03), ("LASE.40", .72, 2.49, .03),
    ("LASE.38", .67, 2.39, .03), ("LASE.40", .72, 2.49, .03), ("LASE.39", .67, 2.42, .03), ("LASE.39", .69, 2.42, .03),
    ("LASE.38", .63, 2.39, .03), ("LASE.39", .69, 2.42, .03), ("LASE.37", .6, 2.39, .03), ("LASE.38", .67, 2.39, .03),
    ("LASE.41", .6, 2.68, .03), ("F.29 L.19 Y.13 ST.05 D.05 _.25", .82, 1.46), ("E.19 R.16 Q.1 K.08 T.08 SL.05 _.15", .72, 1.27), ("Q.74 E.15 N.16 S.18 D.11 T.05 _.15", 1.46, 2.07),
    ("S.83 G.26 R.13 T.1 E.06 A.05 _.15", 1.4, 1.97), ("L1.9 I.2 _.1 F.2", 2.07, 2.79), ("A.1 E.06 T.07 LS.05 _.25", .37, .84), ("E.78 D.26 A.19 T.08 S.05 _.2", 1.37, 1.99),
    ("I1.73 A.2 V.32 L.1 C.03 _.1", 2.29, 2.99), ("Y4.38 S.03 _.05", 4.15, 4.67), ("D.88 H.45 E.16 A.1 T.05 _.2", 1.72, 2.29), ("S1.23 G.95 A.1 _.05", 2.17, 2.78),
    ("F.16 P.16 D.13 E.08 AS.05 _.3", .69, 1.21), ("A.22 DE.05 L.05 _.3", .56, 1.04), ("A1.85 L.8 G.08 _.1", 2.55, 3.22), ("R.42 E.21 Q.14 K.1 S.05 _.25", .95, 1.47),
    ("R.99 K.2 Q.19 A.13 T.05 _.2", 1.53, 2.18), ("Y3.88 F.25", 3.87, 4.33), ("R3.8", 3.45, 4.09), ("A.2 R.15 E.05 ST.05 _.25", .53, 1.08),
    ("G2.95 R.1 K.05 _.1", 2.84, 3.53), ("S1.15 C.38 P.51 A.15 K.05 _.1", 2.01, 2.67), ("S.18 A.16 E.12 TG.05 _.25", .63, 1.11), ("A1.19 E.26 S.1 G.1 _.15", 1.53, 2.13),
    ("C5.5", 4.31, 5.26), ("R.35 _.1 A.17 G.1 S.08 E.07 _.35", .95, 1.53), ("D.26 G.26 S.13 F.07 E.06 _.3", .88, 1.33), ("C5.5", 4.31, 5.26),
    ("R.19 P.11 R.1 S.08 AT.05 _.2", .6, 1.04), ("I.97 L1.05 V.1 _.1", 1.91, 2.55), ("R1.73 N.16 K.13 T.1 _.2", 2.07, 2.76), ("P1.63 A.22 H.13 S.05 _.2", 2.04, 2.68),
    ("V1.38 A.32 T.1 S.05 _.2", 1.75, 2.42), ("C5.5", 4.31, 5.26), ("G2.44 R.35 _.08", 2.58, 3.22), ("G3.08 S.1 _.05", 2.94, 3.54),
    ("C5.5", 4.31, 5.26), ("L1.19 P.51 M.13 Q.13 _.17", 1.85, 2.46), ("A2.16 L.9 T.1 _.1", 2.87, 3.53), ("V2.05 I.2 S.13 A.12 _.1", 2.29, 2.95),
    ("A.35 S.22 T.1 V.16 H.05 _.4", 1.01, 1.53), ("Y.45 H.4 T.3 A.21 S.13 _.3", 1.97, 2.61), ("G1.35 S.62 C.03 A.06 _.35", 2.13, 2.71), ("F.51 L.19 H.16 S.11 Y.08 C.03 _.2", 1.2, 1.78),
    ("G3.2 _.08", 2.97, 3.61), ("L1.41 R.22 K.1 _.2", 1.72, 2.35), ("D2.63 N.48 _.1", 2.9, 3.58), ("I.65 P.67 V.51 C.03 _.1", 1.72, 2.36),
    ("F1.92 L.22 A.1 T.1 C.03 E.05 _.15", 2.29, 3.05), ("T.16 R.13 K.13 ST.05 _.3", .47, .95), ("D.51 E.32 Q.13 AS.05 L.05 _.2", 1.17, 1.81), ("R.77 E.1 K.55 L.16 _.25", 1.62, 2.24),
    ("D3.9", 3.58, 4.19), ("P3.95", 3.61, 4.25), ("Y1.86 F.64 _.2 I.1 C.03 _.15", 2.68, 3.38), ("C5.5", 4.31, 5.26),
]
row9 = [
    ("LASE.39", .7, 2.42, .03), ("F2.83 P.2 W.13 _.25", 3.1, 3.81), ("L.2 R.15 I.16 F.07 ST.05 _.25", .76, 1.24, .8), ("ST.05 LA.05 E.04 _.25", .38, .79, .6),
    ("L.03 _.15", .19, .57, .3), ("EA.05 _.25", .26, .67, .4), ("P.1 A.08 EST.04 _.15", .41, .94, .4), ("EK.07 SLA.04 _.2", .44, .89, .4),
    ("DE.06 SA.04 _.2", .25, .78, .3), ("A.1 SE.05 TL.04 _.2", .28, .96, .3), ("S.08 AG.06 T.05 _.2", .44, 1.17, .25), ("A.12 S.07 C.03 TE.05 _.35", .38, 1.28, .2),
    ("RES.09 LT.05 _.3", .41, 1.15, .2), ("SLDRCE.15", .67, 1.52, .15), ("AESLT.18", .51, 1.45, .13), ("DAESLT.14", .47, 1.3, .12),
    ("IELCTS.16", .53, 1.58, .08), ("SLETA.18", .47, 1.53, .08), ("ILEST.23", .63, 1.82, .06), ("LAES.28", .63, 1.8, .06),
    ("LAES.28", .57, 1.82, .05), ("LAES.35", .86, 2.16, .05), ("LAES.27", .56, 1.72, .05), ("LAES.33", .65, 2.09, .04),
    ("LAES.35", .79, 2.15, .04), ("LAES.30", .61, 1.9, .04), ("LAES.33", .71, 2.08, .04), ("LAES.32", .63, 2.04, .04),
    ("LAES.37", .76, 2.37, .03), ("LAES.32", .57, 2.11, .03), ("LAES.31", .57, 2.09, .03), ("LAES.32", .63, 2.11, .03),
    ("LAES.34", .6, 2.24, .03), ("LAES.34", .63, 2.25, .03), ("LAES.35", .65, 2.26, .03), ("LAES.35", .65, 2.26, .03),
    ("LAES.41", .8, 2.51, .03), ("LAES.37", .66, 2.31, .03), ("LAES.36", .61, 2.26, .03), ("LAES.37", .57, 2.38, .03),
    ("LAES.38", .66, 2.4, .03), ("LAES.38", .63, 2.38, .03), ("LAES.38", .66, 2.4, .03), ("LAES.38", .67, 2.4, .03),
    ("LAES.37", .61, 2.38, .03), ("LAES.38", .66, 2.4, .03), ("LAES.37", .61, 2.38, .03), ("LAES.38", .67, 2.4, .03),
    ("LAES.37", .61, 2.38, .03), ("LAES.38", .67, 2.4, .03), ("LAES.37", .61, 2.38, .03), ("LAES.38", .67, 2.4, .03),
    ("LAES.37", .63, 2.38, .03), ("LAES.40", .74, 2.47, .03), ("LAES.38", .65, 2.4, .03), ("LAES.39", .7, 2.41, .03),
    ("LAES.37", .61, 2.38, .03), ("LAES.37", .61, 2.38, .03), ("LAES.37", .63, 2.38, .03), ("LAES.39", .69, 2.42, .03),
]
rows = [row1, row2, row3, row4, row5, row6, row7, row8, row9]
row_starts = [1, 81, 161, 241, 321, 401, 481, 561, 641]
row_widths = [.8, .85, 1, 1, 1, 1, 1, 1, 1]
bit_ticks = [0, 1, 2, 3, 4]
bit_minor_ticks = [i / 5 for i in range(22)]
letter_colors = {"C": "#ff0000"}

# the page keeps its 8px body margin, so everything is placed 8px up and left
PAGE_MARGIN = 8
WIDTH, HEIGHT = 3758 - PAGE_MARGIN, 2667 - PAGE_MARGIN
PX_PER_POS = 45.03
PX_PER_BIT = 52.0
LEFT = 132.5 - PAGE_MARGIN
FIRST_BASELINE = 250.0 - PAGE_MARGIN
ROW_STEP = 291.8
GRAY = "#c2c2c2"


def find_font(name):
    return glob.glob("/usr/**/" + name, recursive=True)[0]


class Font:
    # just enough of a TrueType reader to get the letter outlines
    def __init__(self, path):
        with open(path, "rb") as f:
            self.d = f.read()
        n = struct.unpack(">H", self.d[4:6])[0]
        self.t = {}
        for i in range(n):
            tag, _, off, _ = struct.unpack(">4sIII", self.d[12 + 16 * i:28 + 16 * i])
            self.t[tag.decode()] = off
        self.long_loca = struct.unpack(">h", self.d[self.t["head"] + 50:self.t["head"] + 52])[0]
        c = self.t["cmap"]
        for i in range(struct.unpack(">H", self.d[c + 2:c + 4])[0]):
            pid, eid, off = struct.unpack(">HHI", self.d[c + 4 + 8 * i:c + 12 + 8 * i])
            if pid == 3 and eid == 1:
                self.sub = c + off

    def gid(self, ch):
        s, d = self.sub, self.d
        code = ord(ch)
        seg = struct.unpack(">H", d[s + 6:s + 8])[0] // 2
        for i in range(seg):
            end = struct.unpack(">H", d[s + 14 + 2 * i:s + 16 + 2 * i])[0]
            if code <= end:
                a = s + 16 + 2 * seg
                start = struct.unpack(">H", d[a + 2 * i:a + 2 * i + 2])[0]
                delta = struct.unpack(">h", d[a + 2 * seg + 2 * i:a + 2 * seg + 2 * i + 2])[0]
                rpos = a + 4 * seg + 2 * i
                rng = struct.unpack(">H", d[rpos:rpos + 2])[0]
                if rng == 0:
                    return (code + delta) & 0xFFFF
                p = rpos + rng + 2 * (code - start)
                return (struct.unpack(">H", d[p:p + 2])[0] + delta) & 0xFFFF

    def outline(self, ch):
        d, g = self.d, self.gid(ch)
        loca = self.t["loca"]
        if self.long_loca:
            off = struct.unpack(">I", d[loca + 4 * g:loca + 4 * g + 4])[0]
        else:
            off = 2 * struct.unpack(">H", d[loca + 2 * g:loca + 2 * g + 2])[0]
        p = self.t["glyf"] + off
        nc = struct.unpack(">h", d[p:p + 2])[0]
        p += 10
        ends = struct.unpack(">" + "H" * nc, d[p:p + 2 * nc])
        p += 2 * nc
        p += 2 + struct.unpack(">H", d[p:p + 2])[0]
        npts = ends[-1] + 1
        flags = []
        while len(flags) < npts:
            fl = d[p]
            p += 1
            flags.append(fl)
            if fl & 8:
                flags += [fl] * d[p]
                p += 1
        coords = []
        for short, same in ((2, 16), (4, 32)):
            v, vals = 0, []
            for fl in flags:
                if fl & short:
                    v += d[p] if fl & same else -d[p]
                    p += 1
                elif not fl & same:
                    v += struct.unpack(">h", d[p:p + 2])[0]
                    p += 2
                vals.append(v)
            coords.append(vals)
        contours, start = [], 0
        for e in ends:
            pts = [(coords[0][i], coords[1][i], flags[i] & 1) for i in range(start, e + 1)]
            contours.append(flatten(pts))
            start = e + 1
        xs = [x for c in contours for x, _ in c]
        ys = [y for c in contours for _, y in c]
        x0, x1, y0, y1 = min(xs), max(xs), min(ys), max(ys)
        return [[((x - x0) / (x1 - x0), (y - y0) / (y1 - y0)) for x, y in c] for c in contours]


def flatten(pts):
    # quadratic outline to a plain polygon
    full = []
    for i, (x, y, on) in enumerate(pts):
        nx, ny, non = pts[(i + 1) % len(pts)]
        full.append((x, y, on))
        if not on and not non:
            full.append(((x + nx) / 2, (y + ny) / 2, 1))
    while not full[0][2]:
        full = full[1:] + full[:1]
    out = []
    n = len(full)
    for i in range(n):
        x, y, on = full[i]
        if on:
            out.append((x, y))
        else:
            ax, ay, _ = full[i - 1]
            bx, by, _ = full[(i + 1) % n]
            for t in (.2, .4, .6, .8):
                u = 1 - t
                out.append((u * u * ax + 2 * u * t * x + t * t * bx, u * u * ay + 2 * u * t * y + t * t * by))
    return out


sans = Font(find_font("LiberationSans-Regular.ttf"))
mono = Font(find_font("LiberationMono-Regular.ttf"))
glyphs = {ch: (mono if ch == "I" else sans).outline(ch) for ch in "ACDEFGHIKLMNPQRSTVWY"}


def parse_stack(text):
    out = []
    for letters, h in re.findall(r"([A-Z_]+)([\d.]+)", text):
        out += [(ch, float(h)) for ch in letters]
    return out[::-1]  # bottom first


fig = go.Figure()
annotations, shapes = [], []
for r, row in enumerate(rows):
    baseline = FIRST_BASELINE + ROW_STEP * r
    first = row_starts[r]
    assert len(row) == (60 if r == 8 else 80), r
    top_bits = 4.5 if r == 0 else 6.3
    xname, yname = "x%d" % (r + 1), "y%d" % (r + 1)
    layers = {}
    bar_x, bar_y, cap_x, cap_y = [], [], [], []
    for i, item in enumerate(row):
        pos = first + i
        width = item[3] if len(item) > 3 else row_widths[r]
        y = 0.0
        for ch, h in parse_stack(item[0]):
            if ch != "_":
                key = (letter_colors.get(ch, "#000000"), width < .1)
                xs, ys = layers.setdefault(key, ([], []))
                for contour in glyphs[ch]:
                    for gx, gy in contour + contour[:1]:
                        xs.append(round(pos + (gx - .5) * width * .89, 3))
                        ys.append(round(y + gy * h, 3))
                    xs.append(None)
                    ys.append(None)
            y += h
        # the bar is broken around the top of the thin stacks
        if width < .1:
            bar_x += [pos, pos, None, pos, pos, None]
            bar_y += [item[1], y - .1, None, y + .1, item[2], None]
        else:
            bar_x += [pos, pos, None]
            bar_y += [item[1], item[2], None]
        cap_x += [pos, pos]
        cap_y += [item[1], item[2]]
    for (color, thin), (xs, ys) in layers.items():
        fig.add_trace(go.Scatter(x=xs, y=ys, mode="lines", fill="toself", fillcolor=color,
                                 line=dict(color=color, width=1.2 if thin else 0, simplify=False),
                                 xaxis=xname, yaxis=yname, hoverinfo="skip", showlegend=False))
    fig.add_trace(go.Scatter(x=bar_x, y=bar_y, mode="lines", line=dict(color=GRAY, width=2.5, simplify=False),
                             xaxis=xname, yaxis=yname, hoverinfo="skip", showlegend=False))
    fig.add_trace(go.Scatter(x=cap_x, y=cap_y, mode="markers", cliponaxis=False,
                             marker=dict(symbol="line-ew", size=8, line=dict(color=GRAY, width=3)),
                             xaxis=xname, yaxis=yname, hoverinfo="skip", showlegend=False))

    right = LEFT + PX_PER_POS * len(row)
    axis_suffix = "" if r == 0 else str(r + 1)
    ticks = [p for p in range(first, first + len(row)) if p % 5 == 0]
    fig.update_layout({
        "xaxis" + axis_suffix: dict(
            domain=[LEFT / WIDTH, right / WIDTH], range=[first - .5, first + len(row) - .5], anchor=yname,
            automargin=False, tickmode="array", tickvals=ticks, ticktext=[str(t) for t in ticks], ticks="outside",
            ticklen=11, tickwidth=2, tickcolor="black", showgrid=False, zeroline=False, showline=True,
            linecolor="black", linewidth=4, tickfont=dict(family="Liberation Sans", size=28, color="black"),
            ticklabelstandoff=-3,
            minor=dict(tickmode="array", tickvals=list(range(first, first + len(row))), ticks="outside", ticklen=6,
                       tickwidth=2, tickcolor="black", showgrid=False)),
        "yaxis" + axis_suffix: dict(
            domain=[(HEIGHT - baseline) / HEIGHT, (HEIGHT - baseline + top_bits * PX_PER_BIT) / HEIGHT],
            range=[0, top_bits], anchor=xname, automargin=False, tickmode="array", tickvals=bit_ticks,
            ticktext=["%.1f" % t for t in bit_ticks], ticks="outside", ticklen=23, tickwidth=3.5, tickcolor="black",
            showgrid=False, zeroline=False, showline=False,
            tickfont=dict(family="Liberation Sans", size=33, color="black"),
            minor=dict(tickmode="array", tickvals=bit_minor_ticks, ticks="outside", ticklen=11, tickwidth=3,
                       tickcolor="black", showgrid=False)),
    })
    shapes.append(dict(type="line", xref=xname, yref=yname, x0=first - .5, x1=first - .5, y0=0, y1=4.33,
                       line=dict(color="black", width=3)))
    annotations.append(dict(text="bits", textangle=-90, xref="paper", yref="paper", x=(34 - PAGE_MARGIN) / WIDTH,
                            y=(HEIGHT - baseline + 113) / HEIGHT, showarrow=False, xanchor="center", yanchor="middle",
                            font=dict(family="Liberation Sans", size=40, color="black")))

annotations.append(dict(text="WebLogo 3.7.12", xref="paper", yref="paper", x=(3733 - PAGE_MARGIN) / WIDTH,
                        y=(HEIGHT - (2650 - PAGE_MARGIN)) / HEIGHT, showarrow=False, xanchor="right", yanchor="middle",
                        font=dict(family="Liberation Sans", size=25, color="black")))
fig.update_layout(width=WIDTH, height=HEIGHT, margin=dict(l=0, r=0, t=0, b=0), autosize=False,
                  paper_bgcolor="white", plot_bgcolor="rgba(0,0,0,0)", showlegend=False,
                  annotations=annotations, shapes=shapes)
fig.write_html("out.html")
